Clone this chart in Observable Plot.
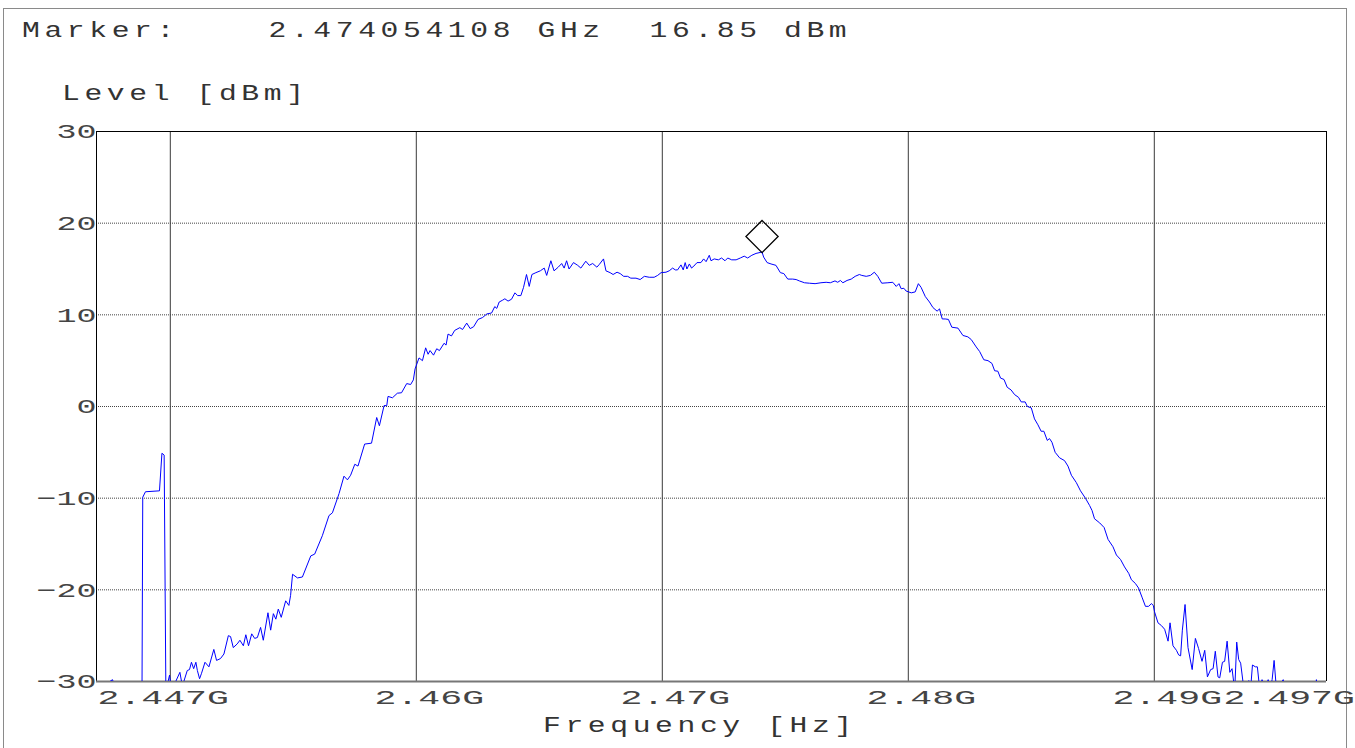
<!DOCTYPE html>
<html>
<head>
<meta charset="utf-8">
<script src="https://cdn.jsdelivr.net/npm/d3@7"></script>
<script src="https://cdn.jsdelivr.net/npm/@observablehq/plot@0.6"></script>
<style>
  html, body { margin: 0; padding: 0; background: #fff; }
  #page { position: relative; width: 1355px; height: 748px; overflow: hidden; background: #fff; }
  #border { position: absolute; left: 3px; top: 8px; width: 1344px; height: 760px; border: 1px solid #8a8a8a; box-sizing: border-box; }
  .txt { position: absolute; font-family: "Liberation Mono", "DejaVu Sans Mono", monospace; font-size: 22px; line-height: 22px; letter-spacing: 3.4px; color: #333; white-space: pre; transform: scaleX(1.35); transform-origin: 0 0; }
  #chart { position: absolute; left: 0; top: 0; }
  #chart svg text { font-family: "Liberation Mono", "DejaVu Sans Mono", monospace; }
</style>
</head>
<body>
<div id="page">
  <div id="border"></div>
  <div id="chart"></div>
  <div class="txt" id="marker" style="left:22px; top:21px;"></div>
  <div class="txt" style="left:62px; top:84px;">Level [dBm]</div>
  <div class="txt" style="left:543px; top:716px;">Frequency [Hz]</div>
</div>
<script>
// Marker readout (GHz, dBm)
const markerFreqGHz = 2.474054108;
const markerLevel = 16.85;

// Axis ranges and labels (frequency in MHz)
const freqRange = [2447, 2497];
const levelRange = [-30, 30];
const levelTicks = [30, 20, 10, 0, -10, -20, -30];
const levelGrid = [20, 10, 0, -10, -20];
const freqGrid = [2450, 2460, 2470, 2480, 2490];
const freqLabelFirst = [[2447, "2.447G"]];
const freqLabelsMid = [[2460, "2.46G"], [2470, "2.47G"], [2480, "2.48G"], [2490, "2.49G"]];
const freqLabelLast = [[2497, "2.497G"]];

// Measured sweep: [frequency MHz, level dBm]; values below -30 dBm fall under the display floor
const sweep = [
  [2447.00, -31], [2447.65, -29.8], [2447.81, -31], [2448.85, -31],
  [2448.88, -9.9], [2448.99, -9.3], [2449.56, -9.2], [2449.66, -5.1], [2449.75, -5.3], [2449.82, -31],
  [2449.97, -29.3], [2450.05, -31], [2450.39, -29.0], [2450.49, -30.5], [2450.69, -28.8], [2450.78, -28.7],
  [2450.86, -27.9], [2450.95, -28.6], [2451.04, -27.9], [2451.10, -28.8], [2451.19, -29.7], [2451.27, -29.1],
  [2451.41, -27.9], [2451.57, -28.4], [2451.77, -26.5], [2451.88, -27.7], [2452.04, -27.5], [2452.18, -27.0],
  [2452.36, -25.0], [2452.45, -25.1], [2452.56, -26.3], [2452.72, -25.9], [2452.83, -25.5], [2452.97, -26.1],
  [2453.07, -24.9], [2453.18, -26.1], [2453.31, -24.8], [2453.43, -25.3], [2453.54, -25.2], [2453.67, -24.1],
  [2453.78, -25.5], [2453.97, -22.5], [2454.08, -24.4], [2454.19, -22.6], [2454.29, -23.2], [2454.39, -22.1],
  [2454.51, -23.0], [2454.69, -21.2], [2454.82, -21.7], [2454.89, -20.6], [2454.97, -18.3], [2455.17, -18.7],
  [2455.37, -18.6], [2455.71, -16.3], [2455.87, -16.1], [2456.18, -14.1], [2456.45, -11.9], [2456.59, -11.6],
  [2456.86, -9.5], [2457.06, -7.6], [2457.20, -8.0], [2457.33, -7.5], [2457.50, -6.3], [2457.63, -6.5],
  [2457.90, -4.1], [2458.18, -4.0], [2458.39, -1.2], [2458.50, -2.1], [2458.69, 0.1], [2458.80, 0.1],
  [2458.85, 1.1], [2459.03, 0.95], [2459.23, 1.45], [2459.40, 1.5], [2459.61, 2.5], [2459.77, 2.4],
  [2459.88, 2.9], [2459.95, 4.1], [2460.11, 5.3], [2460.25, 5.0], [2460.38, 6.4], [2460.48, 5.7],
  [2460.56, 6.1], [2460.70, 5.6], [2460.83, 6.3], [2460.94, 6.1], [2461.13, 6.9], [2461.21, 6.7],
  [2461.29, 7.9], [2461.43, 7.7], [2461.56, 8.3], [2461.77, 8.6], [2461.88, 8.4], [2462.05, 9.1],
  [2462.19, 8.5], [2462.33, 8.7], [2462.51, 9.5], [2462.69, 9.7], [2462.87, 10.1], [2463.06, 10.2],
  [2463.19, 10.9], [2463.27, 10.7], [2463.37, 11.4], [2463.51, 11.6], [2463.60, 11.75], [2463.73, 11.5],
  [2463.87, 11.7], [2464.01, 12.4], [2464.12, 12.1], [2464.25, 12.1], [2464.36, 13.0], [2464.48, 14.4],
  [2464.59, 13.1], [2464.70, 14.4], [2464.86, 14.6], [2465.04, 14.8], [2465.20, 15.1], [2465.30, 14.3],
  [2465.47, 15.9], [2465.60, 14.8], [2465.77, 15.2], [2465.91, 15.6], [2466.01, 15.1], [2466.11, 15.9],
  [2466.21, 15.0], [2466.39, 15.7], [2466.56, 15.4], [2466.69, 15.1], [2466.89, 15.85], [2467.03, 15.4],
  [2467.17, 15.6], [2467.34, 15.2], [2467.44, 15.5], [2467.61, 16.1], [2467.71, 14.8], [2467.88, 14.6],
  [2468.00, 14.4], [2468.16, 14.65], [2468.29, 14.5], [2468.43, 14.2], [2468.59, 14.2], [2468.72, 14.0],
  [2468.93, 14.0], [2469.10, 13.85], [2469.27, 14.2], [2469.47, 14.1], [2469.67, 14.1], [2469.81, 14.3],
  [2469.95, 14.6], [2470.15, 14.65], [2470.28, 14.8], [2470.42, 15.1], [2470.53, 14.9], [2470.62, 14.9],
  [2470.76, 15.45], [2470.85, 14.9], [2470.93, 15.7], [2471.00, 15.0], [2471.10, 15.55], [2471.19, 15.1],
  [2471.33, 15.45], [2471.41, 15.7], [2471.57, 15.7], [2471.68, 16.1], [2471.78, 15.8], [2471.91, 16.5],
  [2471.98, 15.9], [2472.11, 16.1], [2472.28, 16.0], [2472.41, 16.2], [2472.55, 15.9], [2472.66, 16.2],
  [2472.82, 16.0], [2473.00, 16.0], [2473.17, 16.2], [2473.33, 16.4], [2473.47, 16.2], [2473.64, 16.5],
  [2473.81, 16.7], [2474.054108, 16.85], [2474.12, 16.3], [2474.26, 15.7], [2474.42, 15.55], [2474.62, 15.4],
  [2474.80, 14.6], [2474.94, 14.5], [2475.10, 13.9], [2475.30, 13.9], [2475.44, 13.85], [2475.57, 13.7],
  [2475.78, 13.5], [2475.98, 13.45], [2476.21, 13.4], [2476.45, 13.5], [2476.66, 13.55], [2476.83, 13.5],
  [2477.02, 13.7], [2477.13, 13.55], [2477.24, 13.75], [2477.34, 13.5], [2477.51, 13.75], [2477.68, 13.9],
  [2477.84, 14.2], [2478.01, 14.4], [2478.11, 14.3], [2478.29, 14.2], [2478.46, 14.3], [2478.62, 14.65],
  [2478.76, 14.2], [2478.92, 13.45], [2479.17, 13.5], [2479.37, 13.55], [2479.51, 13.1], [2479.62, 13.4],
  [2479.71, 12.85], [2479.82, 12.9], [2479.91, 12.6], [2480.12, 12.4], [2480.28, 12.5], [2480.41, 13.4],
  [2480.52, 13.0], [2480.69, 12.0], [2480.86, 11.4], [2481.00, 10.8], [2481.17, 10.4], [2481.27, 10.65],
  [2481.38, 9.55], [2481.50, 9.55], [2481.63, 9.5], [2481.77, 8.65], [2482.02, 8.55], [2482.22, 7.75],
  [2482.42, 7.6], [2482.56, 7.3], [2482.76, 6.5], [2482.90, 6.0], [2483.07, 5.1], [2483.24, 5.0],
  [2483.40, 4.7], [2483.51, 3.9], [2483.64, 3.85], [2483.75, 3.1], [2483.89, 2.95], [2484.02, 2.1],
  [2484.18, 1.8], [2484.32, 1.3], [2484.48, 1.0], [2484.59, 0.5], [2484.75, 0.5], [2484.84, 0.0],
  [2485.00, -0.15], [2485.13, -1.35], [2485.27, -2.0], [2485.40, -2.7], [2485.51, -2.7], [2485.65, -3.7],
  [2485.74, -3.5], [2485.84, -3.9], [2485.97, -5.0], [2486.15, -5.6], [2486.35, -5.9], [2486.49, -6.5],
  [2486.63, -7.5], [2486.83, -8.3], [2487.00, -9.2], [2487.20, -10.0], [2487.37, -10.8], [2487.47, -11.35],
  [2487.57, -12.25], [2487.78, -12.7], [2487.96, -13.2], [2488.12, -14.5], [2488.32, -15.3], [2488.46, -16.2],
  [2488.63, -16.7], [2488.79, -17.5], [2488.96, -18.2], [2489.07, -18.9], [2489.23, -19.3], [2489.36, -19.8],
  [2489.50, -20.8], [2489.64, -21.8], [2489.77, -21.8], [2489.88, -21.5], [2489.96, -21.7], [2490.01, -22.4],
  [2490.15, -23.6], [2490.29, -23.9], [2490.42, -24.3], [2490.56, -25.6], [2490.64, -23.6], [2490.76, -26.1],
  [2490.90, -26.6], [2490.99, -27.1], [2491.07, -27.2], [2491.14, -24.4], [2491.25, -21.6], [2491.37, -26.3],
  [2491.54, -28.7], [2491.67, -25.3], [2491.80, -26.4], [2491.94, -27.8], [2492.05, -26.6], [2492.16, -29.5],
  [2492.29, -28.7], [2492.39, -28.6], [2492.48, -26.7], [2492.59, -29.5], [2492.66, -29.6], [2492.77, -27.9],
  [2492.86, -27.8], [2492.96, -25.6], [2493.07, -29.0], [2493.16, -28.6], [2493.27, -31], [2493.35, -25.7],
  [2493.43, -27.6], [2493.51, -28.0], [2493.65, -31], [2493.84, -29.9], [2493.91, -31], [2493.99, -28.2],
  [2494.11, -28.4], [2494.19, -28.4], [2494.29, -31], [2494.38, -29.8], [2494.49, -31], [2494.63, -29.8],
  [2494.69, -31], [2494.79, -29.8], [2494.87, -27.7], [2494.97, -31], [2495.24, -29.8], [2495.30, -31],
  [2496.55, -31], [2496.59, -29.8], [2496.63, -31], [2497.00, -31]
];

const rows = sweep.map(([f, l]) => ({f, l}));
const marker = [{f: markerFreqGHz * 1000, l: markerLevel}];

document.getElementById("marker").textContent =
  `Marker:    ${markerFreqGHz.toFixed(9)} GHz  ${markerLevel.toFixed(2)} dBm`;

const chart = Plot.plot({
  width: 1355,
  height: 748,
  marginLeft: 96,
  marginRight: 29,
  marginTop: 131,
  marginBottom: 67,
  x: {domain: freqRange, axis: null},
  y: {domain: levelRange, axis: null},
  style: {background: "transparent", overflow: "visible"},
  marks: [
    // grid
    Plot.ruleY(levelGrid, {stroke: "#444", strokeDasharray: "1,1"}),
    Plot.ruleX(freqGrid, {stroke: "#3a3a3a"}),
    // frame
    Plot.ruleY([levelRange[1]], {stroke: "#000"}),
    Plot.ruleX(freqRange, {stroke: "#000"}),
    Plot.ruleY([levelRange[0]], {stroke: "#777", strokeWidth: 2}),
    // trace
    Plot.line(rows, {x: "f", y: "l", stroke: "#0000ff", strokeWidth: 1, clip: true}),
    // marker
    Plot.dot(marker, {x: "f", y: "l", symbol: "diamond2", r: 14.5, dy: -15.5, stroke: "#000", strokeWidth: 1.3, fill: "none"}),
    // y tick labels
    Plot.text(levelTicks, {
      x: () => freqRange[0], y: d => d,
      text: d => (d < 0 ? "\u2212" + Math.abs(d) : String(d)),
      textAnchor: "end", dx: 0, fontSize: 21, fill: "#444",
      lineAnchor: "middle", className: "ytick"
    }),
    // x tick labels
    Plot.text(freqLabelFirst, {x: d => d[0], y: () => levelRange[0], text: d => d[1], textAnchor: "start", dx: 1, dy: 16, fontSize: 21, fill: "#444", lineAnchor: "middle", className: "xtick"}),
    Plot.text(freqLabelsMid, {x: d => d[0], y: () => levelRange[0], text: d => d[1], textAnchor: "middle", dx: 13, dy: 16, fontSize: 21, fill: "#444", lineAnchor: "middle", className: "xtick"}),
    Plot.text(freqLabelLast, {x: d => d[0], y: () => levelRange[0], text: d => d[1], textAnchor: "start", dx: -103, dy: 16, fontSize: 21, fill: "#444", lineAnchor: "middle", className: "xtick"})
  ]
});

// Stretch tick labels to the instrument's wide fixed pitch
function stretch(selector, pitch) {
  chart.querySelectorAll(selector + " text").forEach(t => {
    const n = t.textContent.length;
    t.setAttribute("textLength", (n * pitch).toFixed(1));
    t.setAttribute("lengthAdjust", "spacingAndGlyphs");
  });
}
stretch(".xtick", 21.9);
stretch(".ytick", 20);

document.getElementById("chart").appendChild(chart);
</script>
</body>
</html>
